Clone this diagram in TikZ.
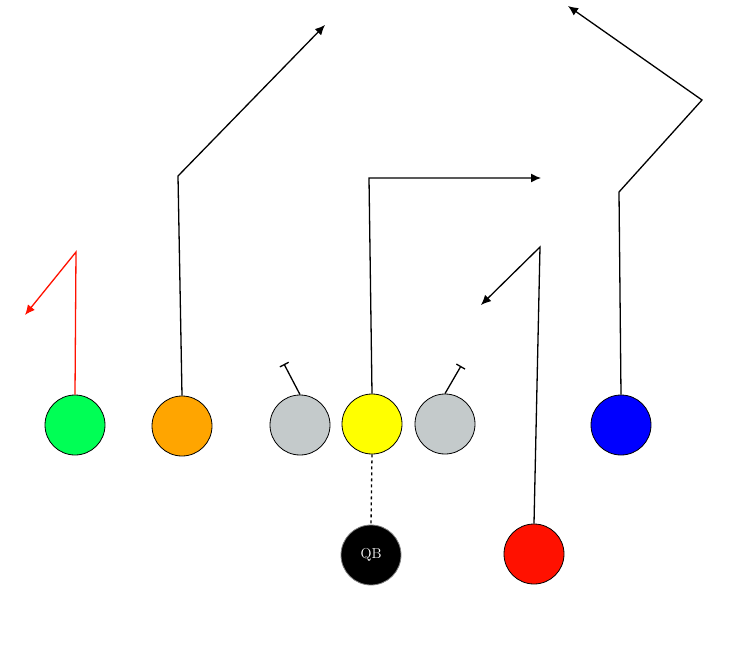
\documentclass[tikz,border=0pt]{standalone}
\usetikzlibrary{arrows.meta}
\begin{document}
\begin{tikzpicture}[x=1pt,y=-1pt,
  player/.style={circle,draw=black,line width=0.8pt,minimum size=60pt,inner sep=0pt},
  route/.style={line width=1.3pt,-{Latex[length=10pt,width=9pt]}},
  blockline/.style={line width=1.3pt,-{Bar[width=10pt]}}]
\useasboundingbox (0,0) rectangle (750,655);
\definecolor{pgreen}{HTML}{00FF55}
\definecolor{porange}{HTML}{FFA500}
\definecolor{pgray}{HTML}{C4CACB}
\definecolor{pyellow}{HTML}{FFFF00}
\definecolor{pblue}{HTML}{0000FF}
\definecolor{pred}{HTML}{FF1100}
\node[player,fill=pgreen] (g) at (75,425) {};
\node[player,fill=porange] (o) at (182,426) {};
\node[player,fill=pgray] (l) at (300,425) {};
\node[player,fill=pyellow] (y) at (372,424) {};
\node[player,fill=pgray] (r) at (445,424) {};
\node[player,fill=pblue] (b) at (621,425) {};
\node[player,fill=black,draw=gray,text=white,font=\Large] (qb) at (371,555) {QB};
\node[player,fill=pred] (rb) at (534,554) {};
\coordinate (g1) at (76,252); \coordinate (g2) at (25,315);
\coordinate (o1) at (178,176); \coordinate (o2) at (325,25);
\coordinate (y1) at (369,178); \coordinate (y2) at (541,178);
\coordinate (r1) at (540,247); \coordinate (r2) at (481,305);
\coordinate (b1) at (619,192); \coordinate (b2) at (702,100); \coordinate (b3) at (568,6);
\coordinate (lb) at (284,364); \coordinate (rbk) at (461,366);
\draw[route,draw=pred,-{Latex[length=10pt,width=9pt,fill=pred]}] (g.north) -- (g1) -- (g2);
\draw[route] (o.north) -- (o1) -- (o2);
\draw[route] (y.north) -- (y1) -- (y2);
\draw[route] (rb.north) -- (r1) -- (r2);
\draw[route] (b.north) -- (b1) -- (b2) -- (b3);
\draw[blockline] (l.north) -- (lb);
\draw[blockline] (r.north) -- (rbk);
\draw[line width=1.3pt,dashed] (y.south) -- (qb.north);
\end{tikzpicture}
\end{document}
